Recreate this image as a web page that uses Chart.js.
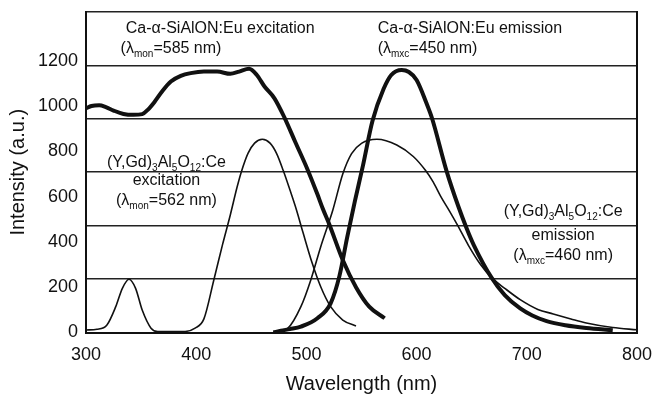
<!DOCTYPE html>
<html><head><meta charset="utf-8">
<script src="https://cdn.jsdelivr.net/npm/chart.js@4/dist/chart.umd.min.js"></script>
<style>html,body{margin:0;padding:0;background:#fff}#wrap{width:652px;height:396px}</style>
</head><body><div id="wrap"><canvas id="c" width="652" height="396"></canvas></div>
<script>
// ---- data ----
const xTicks = [300, 400, 500, 600, 700, 800];
const yTicks = [0, 200, 400, 600, 800, 1000, 1200];
const yMax = 1415;

const sialonExcWl = [300,305,312,318,325,334,343,351,356,362,369,377,386,395,407,419,431,439,448,455,462,471,480,490,501,510,515,521,533,545,557,571];
const sialonExcI  = [990,1000,1003,995,980,965,961,964,983,1017,1064,1108,1133,1145,1152,1152,1142,1152,1164,1137,1086,1034,950,840,720,610,545,475,320,200,114,63];

const sialonEmWl = [470,477,485,495,510,522,530,537,544,551,560,570,577,586.5,593,600,609,614,627,638,645,652,668,680,694,705,718,735,754,778];
const sialonEmI  = [0,8,15,26,63,129,250,420,580,730,935,1075,1137,1159,1150,1115,1012,946,716,555,465,385,242,165,106,75,50,32,20,10];

const yagExcWl = [300,310,319,327,333,339,345,351,359,365,390,399,407,416,424,431,437,441,447,453,460,467,473,479,485,491,497,505,513,522,533,545];
const yagExcI  = [11,14,33,114,195,235,195,99,19,4,4,19,60,232,390,520,640,710,791,836,853,836,790,715,630,541,440,310,202,114,55,29];

const yagEmWl = [470,483,495,504,513,524,533,541,550,564,582,597,608,615,622,630,637,647,658,668,680,694,710,724,740,754,778,800];
const yagEmI  = [0,18,114,232,379,541,700,790,835,853,828,777,716,665,600,535,475,385,300,242,195,145,102,82,60,42,22,12];

const zip = (xs, ys) => xs.map((x, i) => ({x, y: ys[i]}));

// ---- annotation texts (position in data units) ----
const notes = [
  {x: 421.8, y: 1321, align: 'center', runs: [['Ca-α-SiAlON:Eu excitation']]},
  {x: 331.4, y: 1233, align: 'left',   runs: [['(λ'], ['mon', 1], ['=585 nm)']]},
  {x: 564.7, y: 1321, align: 'left',   runs: [['Ca-α-SiAlON:Eu emission']]},
  {x: 564.7, y: 1233, align: 'left',   runs: [['(λ'], ['mxc', 1], ['=450 nm)']]},
  {x: 373,   y: 731,  align: 'center', runs: [['(Y,Gd)'], ['3', 1], ['Al'], ['5', 1], ['O'], ['12', 1], [':Ce']]},
  {x: 373,   y: 651,  align: 'center', runs: [['excitation']]},
  {x: 373,   y: 563,  align: 'center', runs: [['(λ'], ['mon', 1], ['=562 nm)']]},
  {x: 733,   y: 515,  align: 'center', runs: [['(Y,Gd)'], ['3', 1], ['Al'], ['5', 1], ['O'], ['12', 1], [':Ce']]},
  {x: 733,   y: 409,  align: 'center', runs: [['emission']]},
  {x: 733,   y: 320,  align: 'center', runs: [['(λ'], ['mxc', 1], ['=460 nm)']]}
];

const FAM = '"Liberation Sans", Arial, sans-serif';
const INK = '#111';

const notePlugin = {
  id: 'notes',
  afterDatasetsDraw(chart) {
    const {ctx, scales: {x, y}} = chart;
    ctx.save();
    ctx.fillStyle = INK;
    ctx.textBaseline = 'alphabetic';
    ctx.textAlign = 'left';
    const mainF = '16px ' + FAM, subF = '10px ' + FAM;
    for (const n of notes) {
      let w = 0;
      for (const r of n.runs) { ctx.font = r[1] ? subF : mainF; w += ctx.measureText(r[0]).width; }
      let px = x.getPixelForValue(n.x);
      const py = y.getPixelForValue(n.y);
      if (n.align === 'center') px -= w / 2;
      for (const r of n.runs) {
        ctx.font = r[1] ? subF : mainF;
        ctx.fillText(r[0], px, py + (r[1] ? 4 : 0));
        px += ctx.measureText(r[0]).width;
      }
    }
    ctx.restore();
  }
};

const thick = {borderColor: INK, borderWidth: 4, pointRadius: 0, cubicInterpolationMode: 'monotone', fill: false};
const thin  = {borderColor: INK, borderWidth: 1.6, pointRadius: 0, cubicInterpolationMode: 'monotone', fill: false};

new Chart(document.getElementById('c'), {
  type: 'line',
  data: {
    datasets: [
      Object.assign({label: 'Ca-α-SiAlON:Eu excitation', data: zip(sialonExcWl, sialonExcI)}, thick),
      Object.assign({label: 'Ca-α-SiAlON:Eu emission', data: zip(sialonEmWl, sialonEmI)}, thick),
      Object.assign({label: '(Y,Gd)3Al5O12:Ce excitation', data: zip(yagExcWl, yagExcI)}, thin),
      Object.assign({label: '(Y,Gd)3Al5O12:Ce emission', data: zip(yagEmWl, yagEmI)}, thin)
    ]
  },
  options: {
    responsive: false,
    animation: false,
    layout: {padding: {top: 12, right: 15, left: 0, bottom: 0}},
    plugins: {legend: {display: false}, tooltip: {enabled: false}},
    scales: {
      x: {
        type: 'linear', min: 300, max: 800,
        afterBuildTicks: s => { s.ticks = xTicks.map(v => ({value: v})); },
        afterFit: s => { s.height = 63.5; s.paddingLeft = 0; s.paddingRight = 0; },
        grid: {display: false, drawTicks: false},
        border: {display: true, color: INK, width: 2},
        ticks: {color: INK, font: {family: FAM, size: 18}, padding: 12, maxRotation: 0, callback: v => String(v)},
        title: {display: true, text: 'Wavelength (nm)', color: INK, font: {family: FAM, size: 20}, padding: {top: 0, bottom: 0}}
      },
      y: {
        type: 'linear', min: 0, max: yMax, position: 'left',
        afterBuildTicks: s => { s.ticks = yTicks.map(v => ({value: v})); },
        afterFit: s => { s.width = 86; s.paddingTop = 0; s.paddingBottom = 0; },
        grid: {display: false, drawTicks: false},
        border: {display: true, color: INK, width: 2},
        ticks: {color: INK, font: {family: FAM, size: 18}, padding: 8, callback: v => String(v)},
        title: {display: true, text: 'Intensity (a.u.)', color: INK, font: {family: FAM, size: 20}, padding: {top: 6, bottom: 0}}
      },
      y2: {
        type: 'linear', min: 0, max: yMax, position: 'right',
        afterBuildTicks: s => { s.ticks = [0, 1, 2, 3, 4, 5, 6].map(i => ({value: i * yMax / 6})); },
        afterFit: s => { s.width = 0; s.paddingTop = 0; s.paddingBottom = 0; },
        grid: {display: true, drawTicks: false, color: '#222', lineWidth: 1.6},
        border: {display: true, color: INK, width: 2},
        ticks: {display: false}
      }
    }
  },
  plugins: [notePlugin]
});
</script>
</body></html>
